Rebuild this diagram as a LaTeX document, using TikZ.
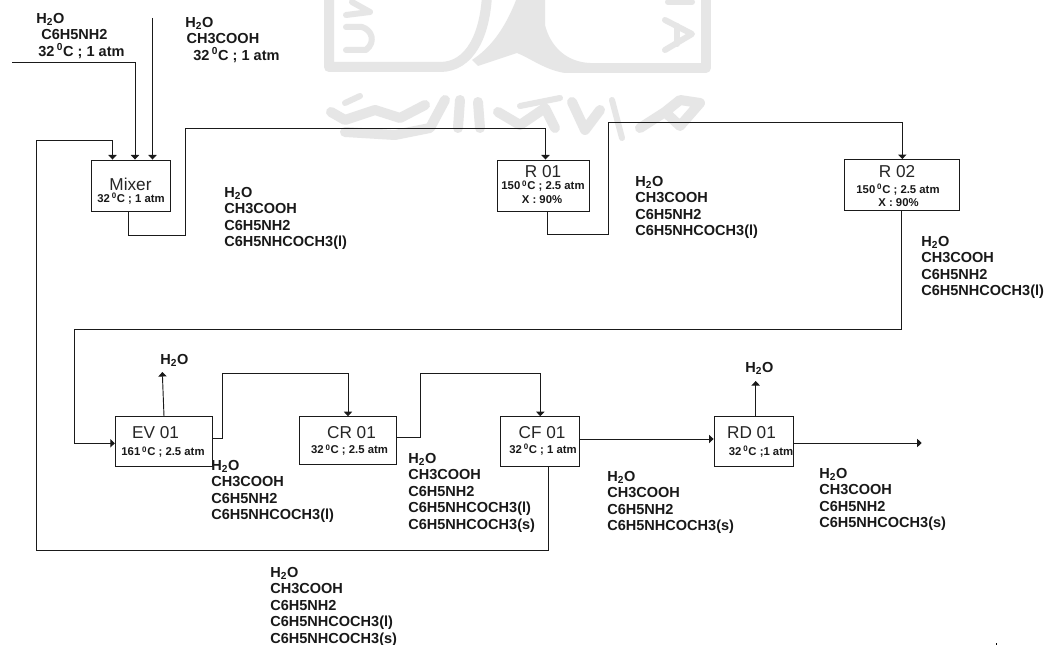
\documentclass[tikz,border=0pt]{standalone}
\usepackage{fontspec}
\setmainfont{Liberation Sans}
\usetikzlibrary{arrows.meta}
\definecolor{wm}{HTML}{E6E6E6}
\definecolor{ln}{HTML}{1A1A1A}
\tikzset{
  box/.style={draw=ln,line width=0.7pt,fill=white,minimum width=#1,inner sep=0pt},
  lbl/.style={font=\fontsize{10.9}{12.3}\selectfont\bfseries,anchor=north west,align=left,inner sep=0pt,yshift=-1.5pt,text=black!90},
  sublbl/.style={font=\fontsize{8.5}{10}\selectfont\bfseries,anchor=center,inner sep=0pt,text=black!90},
  ttl/.style={font=\fontsize{12.9}{14}\selectfont,anchor=center,inner sep=0pt,text=black!85},
  pipe/.style={draw=ln,line width=0.7pt},
  flow/.style={pipe,-{Triangle[length=3.4pt,width=6.2pt]}},
  mark1/.style={draw=wm,line width=7.5pt,line join=round,line cap=round},
  mark2/.style={draw=wm,line width=4.5pt,line join=round,line cap=round}
}
\newcommand{\Hwater}{H\textsubscript{2}O}
\newcommand{\degz}{\textsuperscript{0}}
\begin{document}
\begin{tikzpicture}[x=0.75pt,y=-0.75pt]
\useasboundingbox (0,0) rectangle (1051,645);
\fill[white] (0,0) rectangle (1051,645);
% watermark
\begin{scope}
\clip (0,0) rectangle (1051,645);
\draw[mark1] (329,-5) -- (329,67) -- (440,67) .. controls (470,67) and (485,35) .. (487,-5);
\fill[wm] (518,-5) -- (545,-5) -- (545,25) .. controls (550,45) and (565,62) .. (590,63) -- (590,73) -- (565,73) .. controls (545,70) and (530,58) .. (517,53) -- (478,66) -- (472,60) .. controls (490,48) and (505,30) .. (518,-5) -- cycle;
\draw[mark1] (590,68) -- (706,68) -- (706,-5);
\draw[mark2] (346,15) -- (370,12) -- (352,2);
\draw[mark2] (346,50) -- (366,50) .. controls (376,42) and (372,30) .. (362,27) -- (346,27);
\draw[mark2] (668,2) -- (692,2);
\draw[mark2] (665,20) -- (692,34) -- (665,50);
\draw[mark2] (677,26) -- (677,44);
\draw[mark1] (331,112) -- (345,120) -- (375,110) -- (400,118) -- (425,105);
\draw[mark2] (345,103) -- (360,96);
\draw[mark1] (345,132) -- (395,135) -- (430,128) -- (445,100);
\draw[mark1] (460,100) -- (458,128);
\draw[mark1] (478,102) -- (480,128);
\draw[mark1] (498,112) -- (520,125) -- (545,108) -- (555,128);
\draw[mark2] (520,106) -- (560,98);
\draw[mark1] (572,102) -- (585,130) -- (600,110);
\draw[mark2] (612,100) -- (622,138);
\draw[mark1] (640,128) -- (665,112) -- (680,126) -- (700,103) -- (680,100) -- (665,112);
\end{scope}
% boxes
\node[box=79pt*0.75,minimum height=51pt*0.75] (mix) at (130.5,185.5) {};
\node[box=91.5pt*0.75,minimum height=51pt*0.75] (r1) at (543.3,185.5) {};
\node[box=115.5pt*0.75,minimum height=50.5pt*0.75] (r2) at (902.2,184.8) {};
\node[box=97pt*0.75,minimum height=50pt*0.75] (ev) at (163.8,441.7) {};
\node[box=97.4pt*0.75,minimum height=48pt*0.75] (cr) at (348,440.7) {};
\node[box=79.3pt*0.75,minimum height=50pt*0.75] (cf) at (540.3,441.7) {};
\node[box=79.3pt*0.75,minimum height=50pt*0.75] (rd) at (753.7,441.7) {};
% titles
\node[ttl] (tmix) at (130.5,184) {Mixer};
\node[ttl] (tr1) at (543,172) {R 01};
\node[ttl] (tr2) at (897,172) {R 02};
\node[ttl] (tev) at (155.5,433) {EV 01};
\node[ttl] (tcr) at (351.5,433) {CR 01};
\node[ttl] (tcf) at (542,433) {CF 01};
\node[ttl] (trd) at (751.5,433) {RD 01};
% sub-labels
\node[sublbl] (smix) at (131,198.5) {32\,\degz C ; 1 atm};
\node[sublbl] (sr1a) at (543,186) {150\,\degz C ; 2.5 atm};
\node[sublbl] (sr1b) at (542,200) {X : 90\%};
\node[sublbl] (sr2a) at (898,189.5) {150\,\degz C ; 2.5 atm};
\node[sublbl] (sr2b) at (898.5,203) {X : 90\%};
\node[sublbl] (sev) at (163,452) {161\,\degz C ; 2.5 atm};
\node[sublbl] (scr) at (349.5,450) {32\,\degz C ; 2.5 atm};
\node[sublbl] (scf) at (543,449.5) {32\,\degz C ; 1 atm};
\node[sublbl] (srd) at (761,451.5) {32\,\degz C ;1 atm};
% stream labels
\node[lbl] (l1) at (36,11) {\Hwater\\\hspace*{3.75pt}C6H5NH2\\\hspace*{1.5pt}32\,\degz C ; 1 atm};
\node[lbl] (l2) at (185,15) {\Hwater\\\hspace*{1pt}CH3COOH\\\hspace*{6pt}32\,\degz C ; 1 atm};
\node[lbl] (l3) at (224,185) {\Hwater\\CH3COOH\\C6H5NH2\\C6H5NHCOCH3(l)};
\node[lbl] (l4) at (635,174) {\Hwater\\CH3COOH\\C6H5NH2\\C6H5NHCOCH3(l)};
\node[lbl] (l5) at (921,234) {\Hwater\\CH3COOH\\C6H5NH2\\C6H5NHCOCH3(l)};
\node[lbl] (l6) at (211,458) {\Hwater\\CH3COOH\\C6H5NH2\\C6H5NHCOCH3(l)};
\node[lbl] (l7) at (408,451) {\Hwater\\CH3COOH\\C6H5NH2\\C6H5NHCOCH3(l)\\C6H5NHCOCH3(s)};
\node[lbl] (l8) at (607,469) {\Hwater\\CH3COOH\\C6H5NH2\\C6H5NHCOCH3(s)};
\node[lbl] (l9) at (819,466) {\Hwater\\CH3COOH\\C6H5NH2\\C6H5NHCOCH3(s)};
\node[lbl] (l10) at (270,565) {\Hwater\\CH3COOH\\C6H5NH2\\C6H5NHCOCH3(l)\\C6H5NHCOCH3(s)};
\node[lbl] (hev) at (160,352) {\Hwater};
\node[lbl] (hrd) at (745,360) {\Hwater};
% free ends
\coordinate (f1) at (12,62);
\coordinate (f2) at (152.5,18);
\coordinate (evvent) at (162.3,372);
\coordinate (rdvent) at (755.7,381);
\coordinate (prod) at (921.7,443);
% connectors
\draw[flow] (f1) -- (135,62) -- (135,0 |- mix.north);
\draw[flow] (f2) -- (f2 |- mix.north);
\draw[flow] (548.7,0 |- cf.south) -- (548.7,550.7) -- (36.7,550.7) -- (36.7,140) -- (112.5,140) -- (112.5,0 |- mix.north);
\draw[flow] (128.5,0 |- mix.south) -- (128.5,235.5) -- (185.5,235.5) -- (185.5,128) -- (545.5,128) -- (545.5,0 |- r1.north);
\draw[flow] (547.7,0 |- r1.south) -- (547.7,234) -- (608.3,234) -- (608.3,122) -- (902.3,122) -- (902.3,0 |- r2.north);
\draw[flow] (901,0 |- r2.south) -- (901,329.3) -- (74,329.3) -- (74,443.3) -- (ev.west |- 0,443.3);
\draw[flow] (164,0 |- ev.north) -- (evvent);
\draw[flow] (ev.east |- 0,438.3) -- (222.7,438.3) -- (222.7,373) -- (348,373) -- (348,0 |- cr.north);
\draw[flow] (cr.east |- 0,437.3) -- (420,437.3) -- (420,373) -- (540.3,373) -- (540.3,0 |- cf.north);
\draw[flow] (cf.east |- 0,439) -- (rd.west |- 0,439);
\draw[flow] (755.7,0 |- rd.north) -- (rdvent);
\draw[flow] (rd.east |- prod) -- (prod);
% speck
\fill[black] (995.5,643) rectangle (996.8,645);
\end{tikzpicture}
\end{document}
